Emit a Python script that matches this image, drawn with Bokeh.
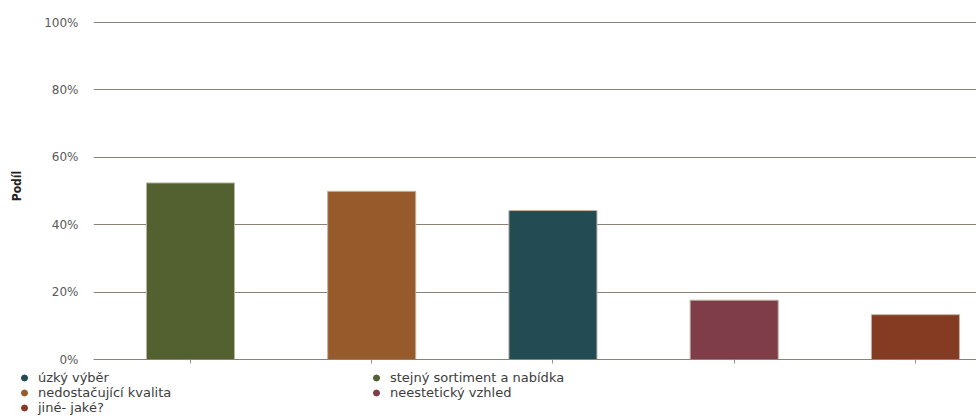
from bokeh.plotting import figure
from bokeh.models import (ColumnDataSource, Range1d, FixedTicker, NumeralTickFormatter,
                          Legend, LegendItem)
from bokeh.embed import file_html
from bokeh.resources import INLINE

# ---- data ----
categories = ["stejný sortiment a nabídka", "nedostačující kvalita", "úzký výběr",
              "neestetický vzhled", "jiné- jaké?"]
values = [0.524, 0.499, 0.442, 0.176, 0.133]
colors = ["#536130", "#975a2a", "#224b53", "#7e3d48", "#853a22"]
legend_order = ["úzký výběr", "stejný sortiment a nabídka", "nedostačující kvalita",
                "neestetický vzhled", "jiné- jaké?"]
y_ticks = [0, 0.2, 0.4, 0.6, 0.8, 1.0]
y_label = "Podíl"

GRID = "#8b8276"

positions = list(range(len(categories)))
src = ColumnDataSource(dict(x=positions, top=values, color=colors, cat=categories))

p = figure(width=976, height=370, output_backend="svg", toolbar_location=None,
           x_range=Range1d(-0.535, 4.337), y_range=Range1d(0, 1.0297),
           min_border_left=93, min_border_right=0, min_border_top=12,
           min_border_bottom=11)
p.outline_line_color = None
p.background_fill_color = "white"
p.border_fill_color = "white"

p.vbar(x="x", top="top", width=0.486, bottom=0, source=src, fill_color="color",
       line_color="#bdb5a3", line_width=1)

p.xgrid.grid_line_color = None
p.ygrid.grid_line_color = GRID
p.ygrid.grid_line_width = 1
p.ygrid.ticker = FixedTicker(ticks=y_ticks)

p.yaxis.ticker = FixedTicker(ticks=y_ticks)
p.yaxis.formatter = NumeralTickFormatter(format="0%")
p.yaxis.axis_line_color = None
p.yaxis.major_tick_line_color = None
p.yaxis.minor_tick_line_color = None
p.yaxis.major_label_standoff = 9
p.yaxis.major_label_text_font = "DejaVu Sans"
p.yaxis.major_label_text_font_size = "12px"
p.yaxis.major_label_text_color = "#5a5a5a"
p.yaxis.axis_label = y_label
p.yaxis.axis_label_text_font = "DejaVu Sans Condensed"
p.yaxis.axis_label_text_font_style = "bold"
p.yaxis.axis_label_text_font_size = "12px"
p.yaxis.axis_label_text_color = "#222222"
p.yaxis.axis_label_standoff = 17

p.xaxis.ticker = FixedTicker(ticks=positions)
p.xaxis.major_label_overrides = {i: "" for i in positions}
p.xaxis.major_label_standoff = 0
p.xaxis.axis_line_color = GRID
p.xaxis.major_tick_line_color = "#8f8f8f"
p.xaxis.major_tick_out = 4
p.xaxis.major_tick_in = 0
p.xaxis.minor_tick_line_color = None

# ---- legend strip below the chart (separate root, so no frame alignment) ----
lg = figure(width=976, height=46, output_backend="svg", toolbar_location=None,
            x_range=Range1d(-0.535, 4.337), y_range=Range1d(0, 1),
            min_border=0, x_axis_type=None, y_axis_type=None)
lg.grid.visible = False
lg.outline_line_color = None

proxies = {}
for i, c in enumerate(categories):
    r = lg.scatter(x=[positions[i]], y=[values[i]], size=0, marker="circle",
                   fill_color=colors[i], line_color=colors[i])
    proxies[c] = r

legend = Legend(items=[LegendItem(label=c, renderers=[proxies[c]]) for c in legend_order],
                orientation="horizontal", ncols=2, location=(14, 1),
                glyph_width=20, glyph_height=15, label_height=15, label_standoff=4,
                label_width=328, spacing=0, padding=0, margin=0,
                border_line_color=None, background_fill_alpha=0,
                label_text_font="DejaVu Sans", label_text_font_size="13px",
                label_text_color="#3c3c3c")
lg.add_layout(legend, "center")

open("out.html", "w").write(file_html([p, lg], INLINE))
